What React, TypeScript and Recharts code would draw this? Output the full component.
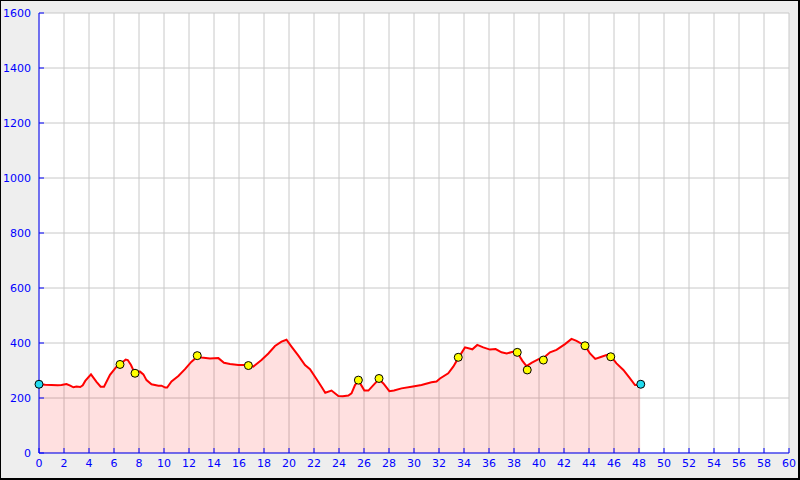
import React from 'react';
import { ComposedChart, Area, Scatter, XAxis, YAxis, CartesianGrid } from 'recharts';

const distanceKm = [0, 0.5, 1.0, 1.5, 1.8, 2.2, 2.5, 2.75, 3.0, 3.3, 3.5, 3.7, 4.16, 4.6, 4.93, 5.2, 5.68, 6.2, 6.48, 6.93, 7.1, 7.36, 7.6, 8.08, 8.35, 8.6, 9.0, 9.55, 9.8, 10.1, 10.25, 10.6, 11.15, 11.68, 12.2, 12.66, 13.0, 13.68, 14.35, 14.8, 15.28, 15.95, 16.48, 16.75, 17.14, 17.8, 18.35, 18.88, 19.4, 19.8, 20.2, 20.75, 21.28, 21.68, 22.2, 22.6, 22.9, 23.4, 23.95, 24.3, 24.75, 25.0, 25.28, 25.55, 25.8, 26.03, 26.35, 26.88, 27.2, 27.55, 28.03, 28.4, 29.0, 29.8, 30.6, 31.4, 31.8, 32.08, 32.74, 33.14, 33.54, 34.08, 34.67, 35.06, 35.54, 36.08, 36.53, 37.0, 37.42, 37.9, 38.26, 38.66, 39.0, 39.4, 40.0, 40.35, 40.88, 41.4, 42.08, 42.6, 43.0, 43.68, 44.08, 44.5, 45.0, 45.4, 45.74, 46.2, 46.75, 47.28, 47.68, 48.1];
const elevationM = [250, 248, 247, 246, 247, 251, 245, 239, 242, 240, 246, 262, 286, 259, 241, 241, 284, 314, 322, 340, 338, 320, 296, 296, 286, 265, 250, 245, 245, 238, 238, 260, 280, 305, 332, 350, 347, 344, 345, 328, 324, 320, 320, 318, 314, 338, 362, 389, 405, 412, 387, 354, 320, 305, 269, 241, 219, 227, 207, 206, 209, 217, 247, 262, 245, 227, 227, 253, 268, 253, 225, 227, 235, 241, 247, 257, 260, 271, 290, 314, 345, 384, 377, 393, 384, 376, 378, 366, 362, 368, 366, 336, 316, 328, 342, 345, 366, 375, 396, 415, 408, 390, 362, 342, 350, 356, 352, 326, 302, 271, 247, 247];

const markerKm = [0, 6.48, 7.68, 12.66, 16.75, 25.55, 27.2, 33.54, 38.26, 39.06, 40.35, 43.68, 45.74, 48.14];
const markerElev = [250, 322, 290, 354, 318, 265, 271, 348, 366, 302, 338, 390, 350, 250];
const markerKind = ['end', 'via', 'via', 'via', 'via', 'via', 'via', 'via', 'via', 'via', 'via', 'via', 'via', 'end'];

const xTicks = [0, 2, 4, 6, 8, 10, 12, 14, 16, 18, 20, 22, 24, 26, 28, 30, 32, 34, 36, 38, 40, 42, 44, 46, 48, 50, 52, 54, 56, 58, 60];
const yTicks = [0, 200, 400, 600, 800, 1000, 1200, 1400, 1600];

const profile = distanceKm.map((km, i) => ({ km, elev: elevationM[i] }));
const markers = markerKm.map((km, i) => ({ km, elev: markerElev[i], kind: markerKind[i] }));

const BLUE = '#0000ff';
const FONT = 'DejaVu Sans';

const YTick = (props: any) => {
  const { x, y, payload } = props;
  return (
    <g>
      <line x1={x + 8} x2={x + 13} y1={y} y2={y} stroke={BLUE} strokeWidth={1} />
      <text x={x} y={y} dy="0.36em" textAnchor="end" fill={BLUE} fontSize={11} fontFamily={FONT}>
        {payload.value}
      </text>
    </g>
  );
};

const XTick = (props: any) => {
  const { x, y, payload } = props;
  return (
    <g>
      <line x1={x} x2={x} y1={y - 6} y2={y - 11} stroke={BLUE} strokeWidth={1} />
      <text x={x} y={y} dy="0.71em" textAnchor="middle" fill={BLUE} fontSize={11} fontFamily={FONT}>
        {payload.value}
      </text>
    </g>
  );
};

const Marker = (props: any) => {
  const { cx, cy, payload } = props;
  return (
    <circle cx={cx} cy={cy} r={4} fill={payload.kind === 'end' ? '#22dcf0' : '#ffff00'} stroke="#000" strokeWidth={1} />
  );
};

export default function App() {
  return (
    <div style={{ position: 'absolute', left: 0, top: 0, width: 800, height: 480, background: '#eeeeee' }}>
      <ComposedChart width={800} height={480} data={profile} margin={{ top: 13, right: 11, bottom: 0, left: 0 }}>
        <CartesianGrid stroke="#c8c8c8" strokeWidth={1} fill="#ffffff" />
        <XAxis
          dataKey="km"
          type="number"
          domain={[0, 60]}
          ticks={xTicks}
          interval={0}
          height={27}
          tickSize={0}
          tickMargin={6}
          tickLine={false}
          axisLine={{ stroke: BLUE, strokeWidth: 1 }}
          tick={<XTick />}
        />
        <XAxis
          xAxisId="top"
          orientation="top"
          type="number"
          domain={[0, 60]}
          height={0}
          tick={false}
          tickLine={false}
          axisLine={{ stroke: BLUE, strokeWidth: 1 }}
        />
        <YAxis
          type="number"
          domain={[0, 1600]}
          ticks={yTicks}
          interval={0}
          width={39}
          tickSize={0}
          tickMargin={8}
          tickLine={false}
          axisLine={{ stroke: BLUE, strokeWidth: 1 }}
          tick={<YTick />}
        />
        <YAxis
          yAxisId="right"
          orientation="right"
          type="number"
          domain={[0, 1600]}
          width={0}
          tick={false}
          tickLine={false}
          axisLine={{ stroke: BLUE, strokeWidth: 1 }}
        />
        <Area
          type="linear"
          dataKey="elev"
          stroke="#ff0000"
          strokeWidth={2}
          fill="#ff0000"
          fillOpacity={0.12}
          dot={false}
          activeDot={false}
          isAnimationActive={false}
        />
        <Scatter data={markers} dataKey="elev" shape={<Marker />} isAnimationActive={false} />
      </ComposedChart>
      <div
        style={{
          position: 'absolute',
          left: 0,
          top: 0,
          width: 800,
          height: 480,
          boxSizing: 'border-box',
          borderTop: '1px solid #000',
          borderLeft: '1px solid #000',
          borderRight: '2px solid #000',
          borderBottom: '2px solid #000',
          pointerEvents: 'none',
        }}
      />
    </div>
  );
}
